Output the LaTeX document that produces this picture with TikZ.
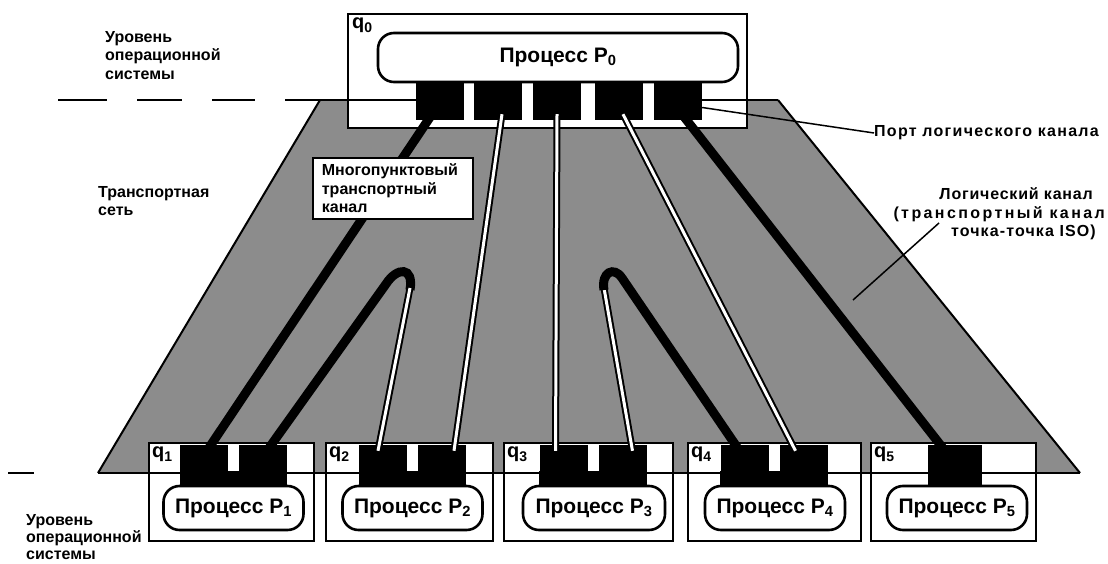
\documentclass[tikz,border=0pt]{standalone}
\usepackage{fontspec}
\setmainfont{Liberation Sans}
\usetikzlibrary{calc}
\tikzset{
  netfill/.style={fill=black!45},
  trap/.style={line width=2pt},
  qbox/.style={draw, line width=1.8pt, fill=white, inner sep=0pt},
  proc/.style={draw, line width=2.6pt, fill=white, rounded corners=16pt, inner sep=0pt,
    font=\fontsize{21}{24}\selectfont\bfseries},
  port/.style={fill=black, inner sep=0pt, minimum width=48pt},
  thk/.style={line width=9pt},
  dbl/.style={double=white, double distance=3pt, line width=2pt},
  lbl/.style={font=\fontsize{16}{18.5}\selectfont\bfseries, align=left, inner sep=0pt},
  qlbl/.style={font=\fontsize{20}{22}\selectfont\bfseries, inner sep=0pt, anchor=north west},
  ptr/.style={line width=1.5pt},
}
\begin{document}
\begin{tikzpicture}[x=1pt,y=-1pt]
\useasboundingbox (0,0) rectangle (1108,564);
\fill[white] (0,0) rectangle (1108,564);

% transport network
\fill[netfill] (320,100) -- (778,100) -- (1080,473) -- (98,473) -- cycle;
\draw[trap] (320,100) -- (98,473);
\draw[trap] (778,100) -- (1080,473);

% boxes
\node[qbox, anchor=north west, minimum width=399pt, minimum height=114pt] (q0) at (347,13) {};
\node[qbox, anchor=north west, minimum width=165pt, minimum height=98pt] (q1) at (148,442) {};
\node[qbox, anchor=north west, minimum width=167pt, minimum height=98pt] (q2) at (325,442) {};
\node[qbox, anchor=north west, minimum width=169pt, minimum height=98pt] (q3) at (503,442) {};
\node[qbox, anchor=north west, minimum width=173pt, minimum height=98pt] (q4) at (687,442) {};
\node[qbox, anchor=north west, minimum width=165pt, minimum height=98pt] (q5) at (870,442) {};

% level lines
\draw[trap] (58,100) -- (107,100) (137,100) -- (182,100) (212,100) -- (255,100)
  (285,100) -- (416,100) (702,100) -- (778,100);
\draw[trap] (8,473) -- (34,473) (98,473) -- (1080,473);

% top ports
\node[port, minimum height=39pt] (t1) at (440,100.5) {};
\node[port, minimum height=39pt] (t2) at (498,100.5) {};
\node[port, minimum height=39pt] (t3) at (557,100.5) {};
\node[port, minimum height=39pt] (t4) at (619,100.5) {};
\node[port, minimum height=39pt] (t5) at (678,100.5) {};

% bottom ports
\node[port, minimum height=42pt] (b11) at (204,466) {};
\node[port, minimum height=42pt] (b12) at (263,466) {};
\node[port, minimum height=42pt] (b21) at (383,466) {};
\node[port, minimum height=42pt] (b22) at (442,466) {};
\node[port, minimum height=42pt] (b31) at (563.5,466) {};
\node[port, minimum height=42pt] (b32) at (622.5,466) {};
\node[port, minimum height=42pt] (b41) at (744.5,466) {};
\node[port, minimum height=42pt] (b42) at (803.5,466) {};
\node[port, minimum height=42pt, minimum width=54pt] (b5) at (955,466) {};
\fill ($(b11.south west)+(0,-16)$) rectangle (b12.south east);
\fill ($(b21.south west)+(0,-16)$) rectangle (b22.south east);
\fill ($(b31.south west)+(0,-16)$) rectangle (b32.south east);
\fill ($(b41.south west)+(0,-16)$) rectangle (b42.south east);

% channels
\draw[thk] ($(t1.south)+(-8,-6)$) -- ($(b11.north)+(3,6)$);
\draw[thk] ($(b12.north)+(4,6)$) -- (386,284) .. controls (397,267) and (414,266) .. (410,290);
\draw[dbl] (410,288) -- ($(b21.north)+(-5,6)$);
\draw[dbl] ($(t2.south)+(4,-6)$) -- ($(b22.north)+(12,6)$);
\draw[dbl] ($(t3.south)+(0,-6)$) -- ($(b31.north)+(-8,6)$);
\draw[dbl] ($(b32.north)+(10,6)$) -- (604,288);
\draw[thk] (604,290) .. controls (601,272) and (614,266) .. (622,278) -- ($(b41.north)+(-5,6)$);
\draw[dbl] ($(t4.south)+(4,-6)$) -- ($(b42.north)+(-8,6)$);
\draw[thk] ($(t5.south)+(4,-6)$) -- ($(b5.north)+(-10,6)$);

% process boxes
\node[proc, minimum width=360pt, minimum height=49pt] (p0) at (558,57.5) {Процесс P\textsubscript{0}};
\node[proc, minimum width=140pt, minimum height=44pt] (p1) at (233.5,508) {Процесс P\textsubscript{1}};
\node[proc, minimum width=140pt, minimum height=44pt] (p2) at (412.5,508) {Процесс P\textsubscript{2}};
\node[proc, minimum width=142pt, minimum height=44pt] (p3) at (594,508) {Процесс P\textsubscript{3}};
\node[proc, minimum width=140pt, minimum height=44pt] (p4) at (775,508) {Процесс P\textsubscript{4}};
\node[proc, minimum width=140pt, minimum height=44pt] (p5) at (957,508) {Процесс P\textsubscript{5}};

% q labels
\node[qlbl] (lq0) at ($(q0.north west)+(5,5)$) {q\textsubscript{0}};
\node[qlbl] (lq1) at ($(q1.north west)+(4,5)$) {q\textsubscript{1}};
\node[qlbl] (lq2) at ($(q2.north west)+(4,5)$) {q\textsubscript{2}};
\node[qlbl] (lq3) at ($(q3.north west)+(4,5)$) {q\textsubscript{3}};
\node[qlbl] (lq4) at ($(q4.north west)+(4,5)$) {q\textsubscript{4}};
\node[qlbl] (lq5) at ($(q5.north west)+(4,5)$) {q\textsubscript{5}};

% labels
\node[lbl, anchor=north west] (ostop) at (105,31) {Уровень\\операционной\\системы};
\node[lbl, anchor=north west] (net) at (98,186) {Транспортная\\сеть};
\node[lbl, anchor=north west, font=\fontsize{16}{17}\selectfont\bfseries] (osbot) at (26,514) {Уровень\\операционной\\системы};
\node[lbl, qbox, anchor=north west, inner xsep=9pt, inner ysep=4pt, text width=142pt,
  minimum height=61pt] (mp) at (312,157) {Многопунктовый\\транспортный\\канал};
\node[lbl, anchor=west] (portlbl) at (874,133) {\addfontfeature{LetterSpace=8}Порт логического канала};
\node[lbl, align=right, anchor=east] (lc) at (1105,214) {{\addfontfeature{LetterSpace=5}Логический канал}\hspace*{12pt}\\
  {\addfontfeature{LetterSpace=15}(транспортный канал}\\
  {\addfontfeature{LetterSpace=7}точка-точка ISO)}\hspace*{9pt}};

% pointers
\draw[ptr] ($(t5.east)+(0,7)$) -- (portlbl.west);
\coordinate (lcp) at (939,223);
\coordinate (lcend) at (853,300);
\draw[ptr] (lcp) -- (lcend);
\end{tikzpicture}
\end{document}
